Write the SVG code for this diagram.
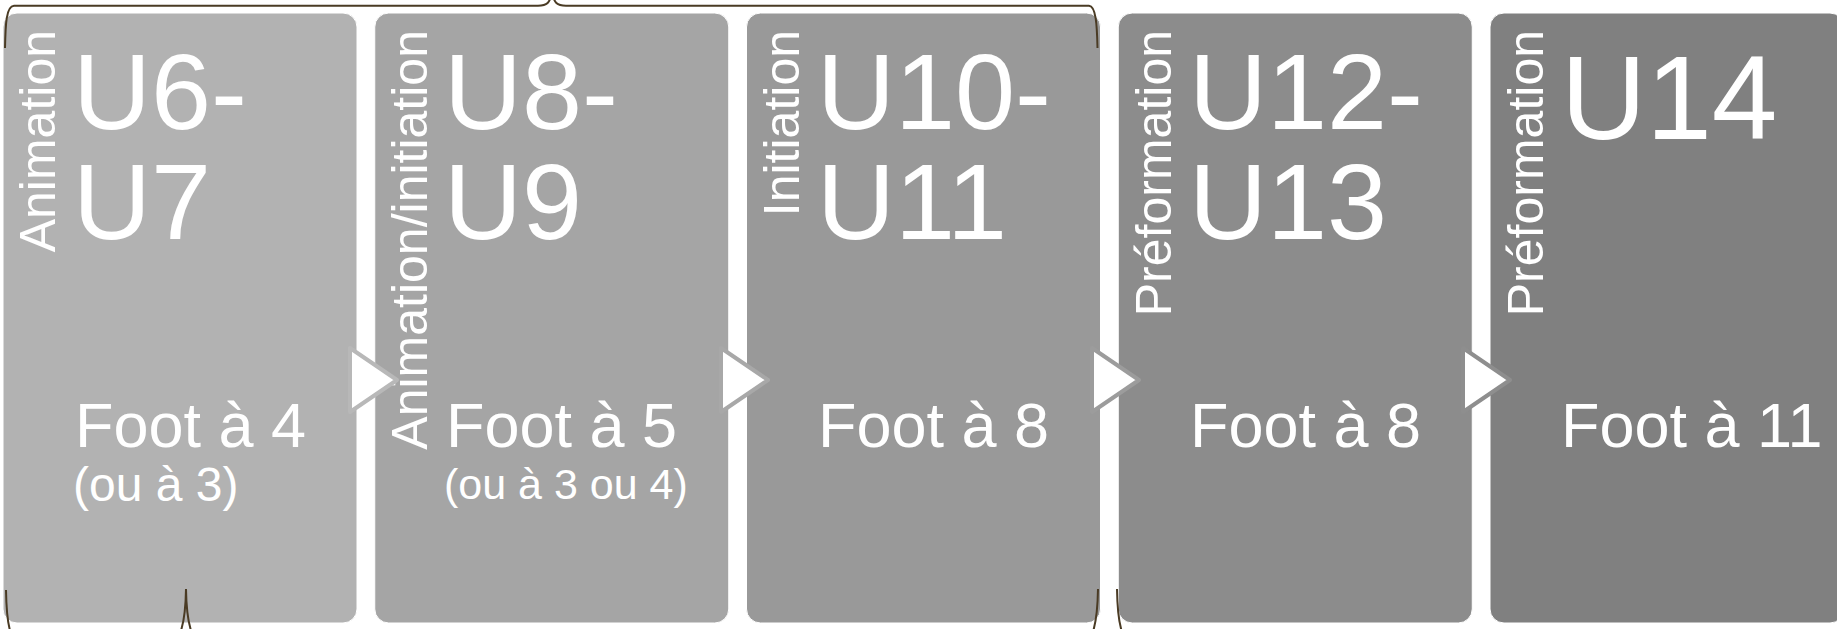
<svg xmlns="http://www.w3.org/2000/svg" width="1837" height="629" viewBox="0 0 1837 629">
<style>
.box{stroke:#ffffff;stroke-width:1}
.side{font-family:"Liberation Sans",Arial,sans-serif;font-size:50px;fill:#ffffff}
.title{font-family:"Liberation Sans",Arial,sans-serif;font-size:108px;fill:#ffffff}
.foot{font-family:"Liberation Sans",Arial,sans-serif;font-size:63px;fill:#ffffff}
.sub{font-family:"Liberation Sans",Arial,sans-serif;font-size:44px;fill:#ffffff}
.arrow{fill:#ffffff;stroke-width:4;stroke-linejoin:round}
.brace{fill:none;stroke:#4a3b24;stroke-width:2}
</style>
<rect width="1837" height="629" fill="#ffffff"/>
<g id="node1">
<rect class="box" x="3" y="13" width="354" height="610" rx="14" fill="#b2b2b2"/>
<text class="side" text-anchor="end" transform="translate(55,30) rotate(-90)">Animation</text>
<text class="title" x="73" y="129">U6-</text>
<text class="title" x="73" y="239">U7</text>
<text class="foot" x="75" y="447">Foot à 4</text>
<text class="sub" x="73" y="501" style="font-size:48px">(ou à 3)</text>
</g>
<g id="node2">
<rect class="box" x="374.75" y="13" width="354" height="610" rx="14" fill="#a5a5a5"/>
<text class="side" text-anchor="end" transform="translate(427,30) rotate(-90)">Animation/initiation</text>
<text class="title" x="444" y="129">U8-</text>
<text class="title" x="444" y="239">U9</text>
<text class="foot" x="446" y="447">Foot à 5</text>
<text class="sub" x="444" y="499" style="font-size:43px">(ou à 3 ou 4)</text>
</g>
<g id="node3">
<rect class="box" x="746.5" y="13" width="354" height="610" rx="14" fill="#999999"/>
<text class="side" text-anchor="end" transform="translate(799,30) rotate(-90)">Initiation</text>
<text class="title" x="817" y="129">U10-</text>
<text class="title" x="817" y="239">U11</text>
<text class="foot" x="818" y="447">Foot à 8</text>
</g>
<g id="node4">
<rect class="box" x="1118.25" y="13" width="354" height="610" rx="14" fill="#8c8c8c"/>
<text class="side" text-anchor="end" transform="translate(1171,30) rotate(-90)">Préformation</text>
<text class="title" x="1189" y="129">U12-</text>
<text class="title" x="1189" y="239">U13</text>
<text class="foot" x="1190" y="447">Foot à 8</text>
</g>
<g id="node5">
<rect class="box" x="1490" y="13" width="354" height="610" rx="14" fill="#808080"/>
<text class="side" text-anchor="end" transform="translate(1543,30) rotate(-90)">Préformation</text>
<text class="title" x="1561" y="139" style="font-size:118px">U14</text>
<text class="foot" x="1561" y="447">Foot à 11</text>
</g>
<g id="connectors">
<polygon class="arrow" stroke="#b8b8b8" points="350,348 350,412 397,380"/>
<polygon class="arrow" stroke="#a8a8a8" points="721,348 721,412 768,380"/>
<polygon class="arrow" stroke="#9c9c9c" points="1092,348 1092,412 1139,380"/>
<polygon class="arrow" stroke="#8e8e8e" points="1463,348 1463,412 1510,380"/>
<path class="brace" d="M 5 48 C 5.5 25, 6 6, 14 5.7 L 538 5.7 C 547 5.7, 550 3, 552 -8 C 554 3, 557 5.7, 566 5.7 L 1089 5.7 C 1096 6, 1097 25, 1097.5 48"/>
<path class="brace" d="M 6 590 C 6.5 622, 9 648, 30 653 L 160 653 C 181 648, 185.5 622, 186 589 C 186.5 622, 191 648, 212 653 L 1075 653 C 1093 648, 1097.5 622, 1098 589"/>
<path class="brace" d="M 1117 589 C 1117.5 622, 1121 648, 1142 653 L 1900 653"/>
</g>
</svg>
